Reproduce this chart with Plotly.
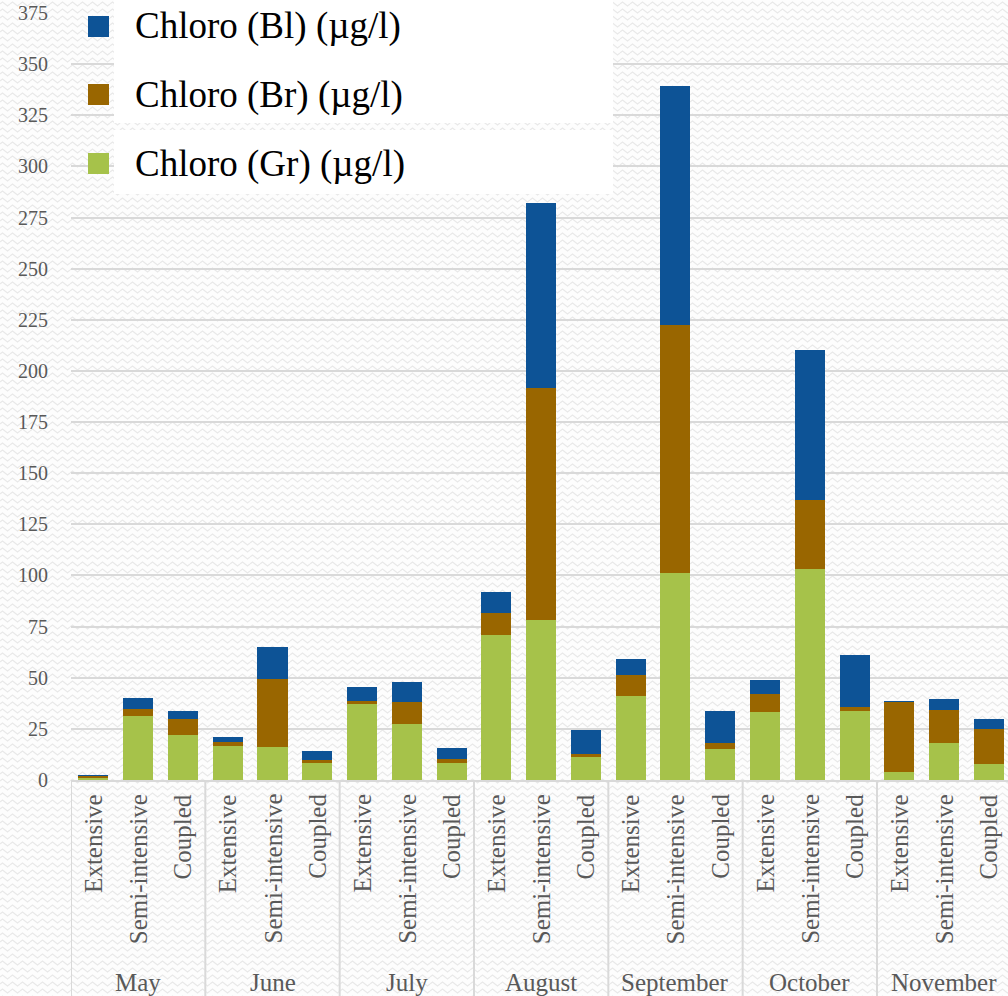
import base64
import plotly.graph_objects as go

# Sampling campaign layout: 7 months x 3 pond systems
months = ["May", "June", "July", "August", "September", "October", "November"]
systems = ["Extensive", "Semi-intensive", "Coupled"]

# Chlorophyll fractions (µg/l), one value per month/system, in month order
chloro_gr = [1.3, 31.3, 22.2, 16.6, 16.3, 8.1, 37.6, 27.2, 8.3, 70.9, 78.2, 11.4,
             41.2, 101.1, 15.2, 33.1, 103.0, 33.7, 4.1, 18.1, 7.8]
chloro_br = [0.8, 3.3, 7.8, 2.1, 33.1, 1.7, 0.9, 10.8, 2.0, 10.7, 113.3, 1.3,
             10.1, 121.4, 2.7, 8.9, 33.9, 2.1, 34.3, 16.1, 17.3]
chloro_bl = [0.3, 5.4, 3.7, 2.2, 15.6, 4.2, 7.0, 9.9, 5.2, 10.3, 90.5, 11.7,
             7.7, 116.8, 15.8, 6.9, 73.3, 25.3, 0.2, 5.3, 4.6]

series_names = ["Chloro (Bl) (µg/l)", "Chloro (Br) (µg/l)", "Chloro (Gr) (µg/l)"]
y_ticks = list(range(0, 376, 25))

COL_GR = "#a6c24a"
COL_BR = "#996600"
COL_BL = "#0d5396"
TXT = "#595959"
GRID = "#d9d9d9"
SERIF = "Liberation Serif, Times New Roman, serif"

W, H = 1008, 996
ML, MR, MT, MB = 71, 0, 13, 216
PW, PH = W - ML - MR, H - MT - MB

def px_x(px):
    return (px - ML) / PW

def px_y(py):
    return (H - MB - py) / PH

n_cat = len(months) * len(systems)
xpos = list(range(n_cat))
cat_w = 134.33 / 3  # pixel width of one category slot

fig = go.Figure()
for vals, col, name in [(chloro_gr, COL_GR, series_names[2]),
                        (chloro_br, COL_BR, series_names[1]),
                        (chloro_bl, COL_BL, series_names[0])]:
    fig.add_trace(go.Bar(x=xpos, y=vals, name=name, marker_color=col,
                         marker_line_width=0, width=0.67, showlegend=False))

# subtle zig-zag page texture
svg = ("<svg xmlns='http://www.w3.org/2000/svg' width='1008' height='996'>"
       "<defs><pattern id='w' width='10' height='7' patternUnits='userSpaceOnUse'>"
       "<path d='M0 4 L2.5 2 L5 4 L7.5 6 L10 4' fill='none' stroke='#e9e9e9' stroke-width='1.2'/>"
       "</pattern></defs><rect width='100%' height='100%' fill='#fdfdfd'/>"
       "<rect width='100%' height='100%' fill='url(#w)'/></svg>")
src = "data:image/svg+xml;base64," + base64.b64encode(svg.encode()).decode()
fig.add_layout_image(dict(source=src, xref="paper", yref="paper",
                          x=px_x(0), y=px_y(0), sizex=W / PW, sizey=H / PH,
                          xanchor="left", yanchor="top", sizing="stretch",
                          layer="below"))

shapes = []
annotations = []

# group dividers below the category axis
for g in range(len(months)):
    xb = g * 3 - 0.5
    shapes.append(dict(type="line", xref="x", yref="paper", x0=xb, x1=xb,
                       y0=0, y1=px_y(H), line=dict(color=GRID, width=2)))

# inner and outer category labels
for i in range(n_cat):
    annotations.append(dict(x=xpos[i], y=px_y(792), xref="x", yref="paper",
                            text=systems[i % 3], textangle=-90, showarrow=False,
                            xanchor="center", yanchor="top",
                            font=dict(family=SERIF, size=25, color=TXT)))
for g, m in enumerate(months):
    annotations.append(dict(x=g * 3 + 1, y=px_y(982), xref="x", yref="paper",
                            text=m, showarrow=False, xanchor="center", yanchor="middle",
                            font=dict(family=SERIF, size=25, color=TXT)))

# legend panel
for y0, y1 in [(0, 123), (130, 194)]:
    shapes.append(dict(type="rect", xref="paper", yref="paper",
                       x0=px_x(114), x1=px_x(613), y0=px_y(y1), y1=px_y(y0),
                       fillcolor="white", line_width=0, layer="above"))
for name, col, cy in [(series_names[0], COL_BL, 26.5),
                      (series_names[1], COL_BR, 94.5),
                      (series_names[2], COL_GR, 163.5)]:
    shapes.append(dict(type="rect", xref="paper", yref="paper",
                       x0=px_x(88), x1=px_x(109), y0=px_y(cy + 10.5), y1=px_y(cy - 10.5),
                       fillcolor=col, line_width=0, layer="above"))
    annotations.append(dict(x=px_x(133), y=px_y(cy), xref="paper", yref="paper",
                            text=name, showarrow=False, xanchor="left", yanchor="middle",
                            font=dict(family=SERIF, size=37, color="black")))

fig.update_layout(
    width=W, height=H,
    margin=dict(l=ML, r=MR, t=MT, b=MB, pad=0),
    font=dict(family=SERIF, color=TXT),
    barmode="stack",
    paper_bgcolor="white",
    plot_bgcolor="rgba(0,0,0,0)",
    shapes=shapes,
    annotations=annotations,
    xaxis=dict(range=[-0.5, -0.5 + PW / cat_w], showticklabels=False,
               showgrid=False, zeroline=False, showline=True,
               linecolor=GRID, linewidth=2, ticks=""),
    yaxis=dict(range=[0, 375], tickvals=y_ticks, ticktext=[str(v) for v in y_ticks],
               showgrid=True, gridcolor=GRID, gridwidth=2, zeroline=False,
               showline=False, ticks="", ticklabelstandoff=22,
               tickfont=dict(family=SERIF, size=20, color=TXT)),
)

fig.write_html("out.html")
